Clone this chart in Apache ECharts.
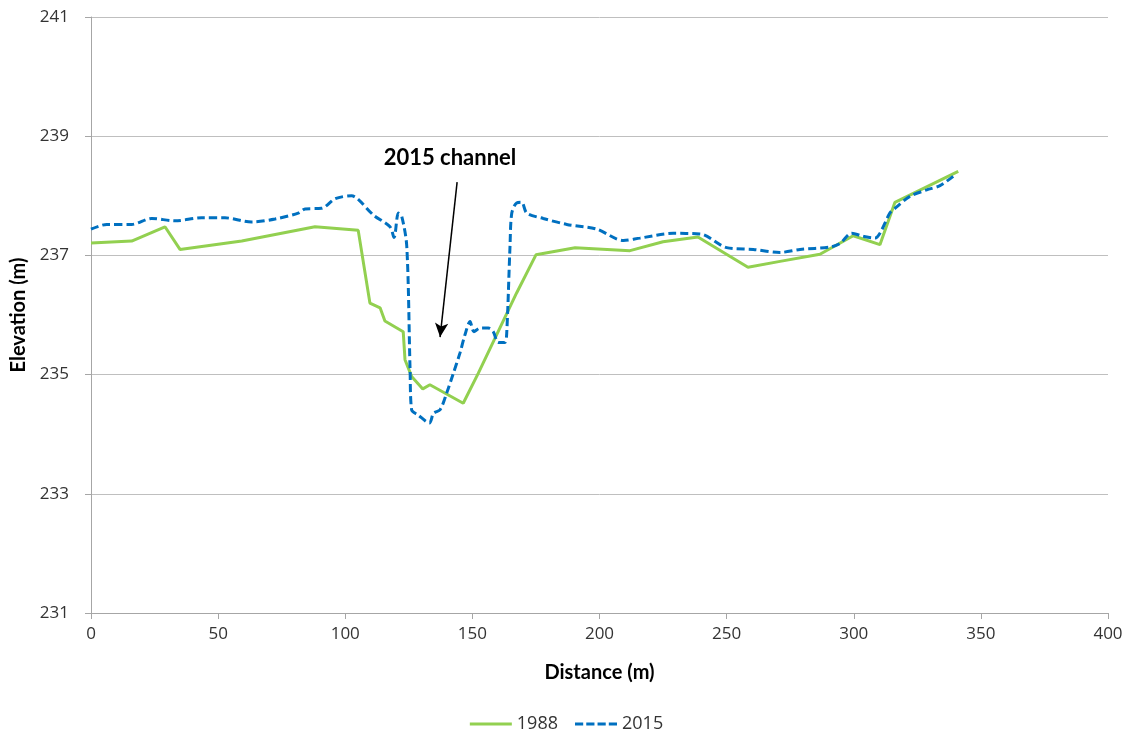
<!DOCTYPE html>
<html>
<head>
<meta charset="utf-8">
<script src="https://cdn.jsdelivr.net/npm/echarts@6/dist/echarts.min.js"></script>
<style>html,body{margin:0;padding:0;background:#fff}#c{width:1133px;height:738px}</style>
</head>
<body>
<div id="c"></div>
<script>
var dist1988 = [0, 16, 29.1, 35, 59.3, 88.1, 105.1, 109.7, 113.7, 115.6, 122.8, 123.5, 126.1, 130.5, 133.3, 146.4, 152.3, 167.4, 175, 190.4, 212, 225, 238.7, 258.4, 271, 286.7, 299.8, 310.3, 316.2, 341.1];
var elev1988 = [237.21, 237.24, 237.48, 237.10, 237.24, 237.48, 237.42, 236.20, 236.12, 235.90, 235.72, 235.25, 234.97, 234.76, 234.83, 234.52, 235.02, 236.37, 237.01, 237.13, 237.08, 237.23, 237.31, 236.80, 236.90, 237.02, 237.33, 237.18, 237.89, 238.41];

var dist2015 = [0, 6.2, 16, 23.9, 33, 43.5, 52.7, 63.2, 72.4, 81.5, 84.2, 90.7, 96, 102.5, 105.1, 111, 117.6, 119.2, 120.9, 122.2, 124.2, 125.5, 126.1, 128.7, 133.1, 134.7, 137.3, 139.9, 142.5, 145.1, 147.1, 149.1, 150.6, 153, 156.3, 158.2, 160.2, 162.8, 163.5, 164.8, 165.5, 167.4, 169.4, 171.4, 177.9, 187.1, 198.9, 209.4, 215.9, 229, 239.5, 250, 260.5, 271, 278.9, 290.7, 294.6, 299.2, 303.8, 308.4, 310.3, 314.2, 316.2, 322.1, 328.7, 333.9, 339.8];
var elev2015 = [237.44, 237.52, 237.52, 237.62, 237.58, 237.63, 237.63, 237.56, 237.61, 237.71, 237.78, 237.79, 237.95, 238.00, 237.94, 237.68, 237.48, 237.30, 237.71, 237.66, 237.15, 235.08, 234.41, 234.32, 234.19, 234.35, 234.41, 234.69, 235.02, 235.36, 235.67, 235.89, 235.72, 235.78, 235.78, 235.72, 235.54, 235.54, 235.69, 237.15, 237.71, 237.88, 237.89, 237.71, 237.62, 237.52, 237.44, 237.25, 237.29, 237.37, 237.36, 237.13, 237.10, 237.05, 237.10, 237.14, 237.20, 237.37, 237.32, 237.29, 237.37, 237.71, 237.79, 237.99, 238.10, 238.17, 238.35];

var yTicks = [231, 233, 235, 237, 239, 241];
var annotationText = '2015 channel';
var arrowFrom = [144, 238.23];
var arrowTo = [137.3, 235.63];
var labelAt = [141.2, 238.63];

function pairs(xs, ys) { return xs.map(function (x, i) { return [x, ys[i]]; }); }

var chart = echarts.init(document.getElementById('c'));
var txt = '#333333';
chart.setOption({
  animation: false,
  grid: { left: 91, right: 25, top: 17, bottom: 125, containLabel: false, outerBoundsMode: 'none' },
  legend: {
    top: 710, left: 'center', itemWidth: 42, itemHeight: 14, itemGap: 17,
    textStyle: { fontFamily: 'Open Sans', fontSize: 18, color: txt },
    data: [
      { name: '1988', icon: 'path://M0,6 L42,6 L42,9 L0,9 Z' },
      { name: '2015', icon: 'path://M0,6 L8,6 L8,9 L0,9 Z M11,6 L19,6 L19,9 L11,9 Z M22,6 L30,6 L30,9 L22,9 Z M33,6 L41,6 L41,9 L33,9 Z' }
    ]
  },
  xAxis: {
    type: 'value', min: 0, max: 400, interval: 50,
    name: 'Distance (m)', nameLocation: 'middle', nameGap: 50,
    nameTextStyle: { fontFamily: 'Lato', fontWeight: 'bold', fontSize: 20, color: '#000' },
    axisLine: { show: true, lineStyle: { color: '#a6a6a6', width: 1 } },
    axisTick: { show: true, length: 6, inside: false, lineStyle: { color: '#a6a6a6' } },
    axisLabel: { fontFamily: 'Open Sans', fontSize: 17, color: txt, margin: 13 },
    splitLine: { show: false }
  },
  yAxis: {
    type: 'value', min: yTicks[0], max: yTicks[yTicks.length - 1], interval: 2,
    name: 'Elevation (m)', nameLocation: 'middle', nameGap: 60, nameRotate: 90,
    nameTextStyle: { fontFamily: 'Lato', fontWeight: 'bold', fontSize: 20, color: '#000' },
    axisLine: { show: true, lineStyle: { color: '#a6a6a6', width: 1 } },
    axisTick: { show: true, length: 6, lineStyle: { color: '#a6a6a6' } },
    axisLabel: { fontFamily: 'Open Sans', fontSize: 17, color: txt, margin: 22 },
    splitLine: { show: true, lineStyle: { color: '#bfbfbf', width: 1 } }
  },
  series: [
    {
      name: '1988', type: 'line', data: pairs(dist1988, elev1988),
      showSymbol: false, symbol: 'none', smooth: false,
      lineStyle: { color: '#92d050', width: 3 }, itemStyle: { color: '#92d050' },
      z: 2
    },
    {
      name: '2015', type: 'line', data: pairs(dist2015, elev2015),
      showSymbol: false, symbol: 'none', smooth: 0.3,
      lineStyle: { color: '#0070c0', width: 3, type: [8, 4] }, itemStyle: { color: '#0070c0' },
      z: 3,
      markLine: {
        silent: true, symbol: ['none', 'arrow'], symbolSize: [10, 14],
        lineStyle: { color: '#000', width: 1.5, type: 'solid' },
        label: { show: false },
        data: [[{ coord: arrowFrom }, { coord: arrowTo }]]
      },
      markPoint: {
        silent: true, symbol: 'circle', symbolSize: 0,
        label: { show: true, formatter: annotationText, fontFamily: 'Lato', fontWeight: 'bold', fontSize: 22, color: '#000', position: 'inside' },
        data: [{ coord: labelAt }]
      }
    }
  ]
});
</script>
</body>
</html>
